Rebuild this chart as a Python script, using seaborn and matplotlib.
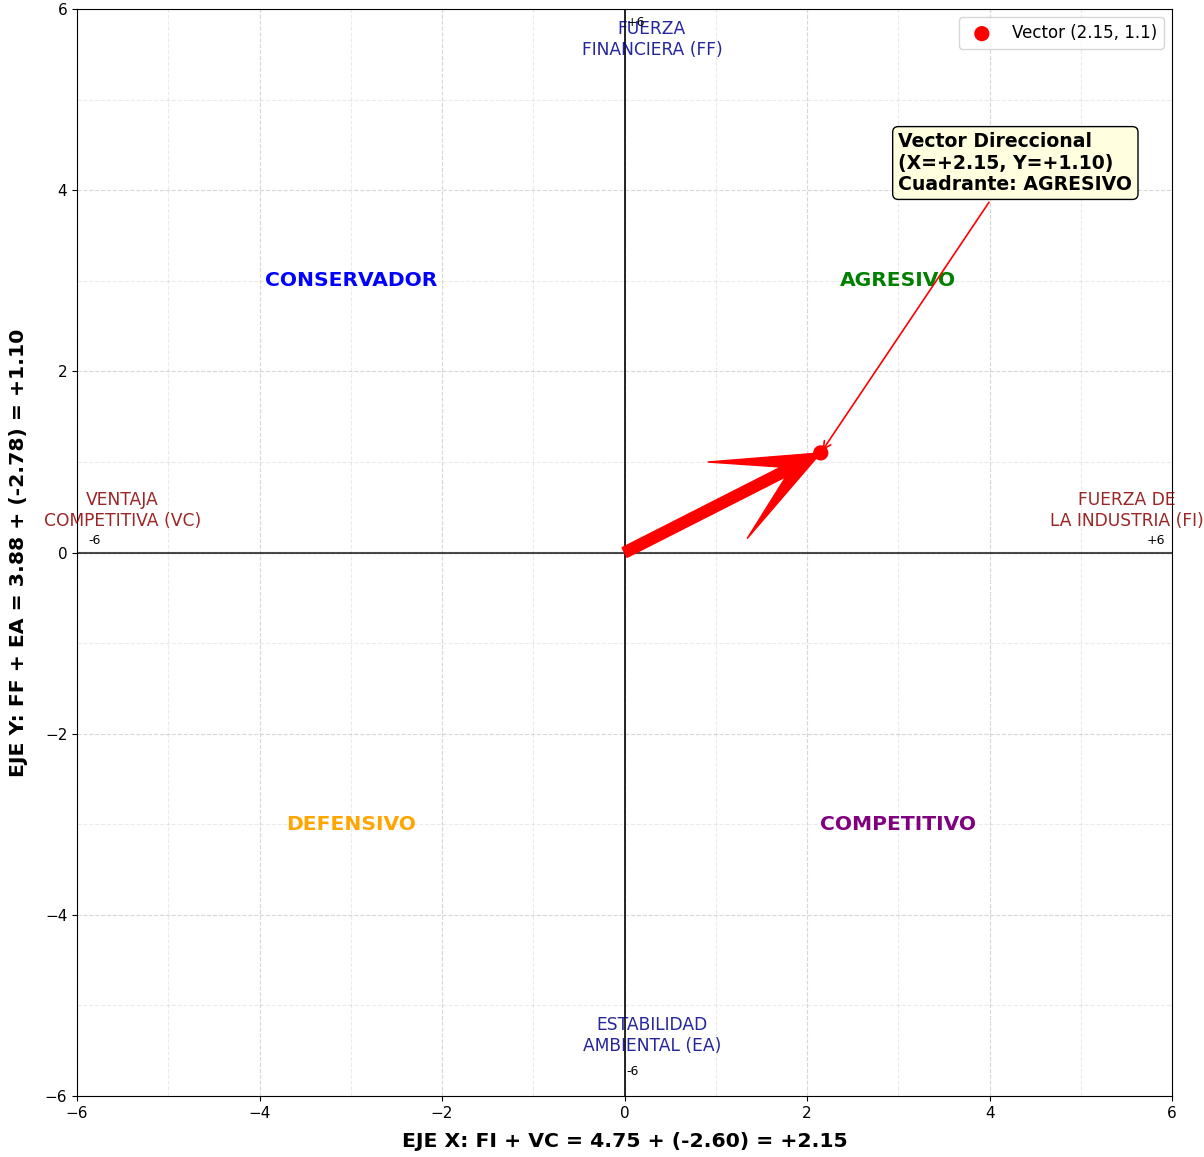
import matplotlib
matplotlib.use("Agg")
import matplotlib.pyplot as plt
import seaborn as sns
import pandas as pd
import numpy as np

# valores de la matriz PEYEA
FI = 4.75
VC = -2.60
FF = 3.88
EA = -2.78
vec_x = [2.15]
vec_y = [1.10]

# cuadrantes
cuadrantes = ["CONSERVADOR", "AGRESIVO", "DEFENSIVO", "COMPETITIVO"]
cuad_x = [-3, 3, -3, 3]
cuad_y = [3, 3, -3, -3]
cuad_col = ["blue", "green", "orange", "purple"]

# etiquetas de los ejes
ejes_txt = ["FUERZA\nFINANCIERA (FF)", "ESTABILIDAD\nAMBIENTAL (EA)",
            "VENTAJA\nCOMPETITIVA (VC)", "FUERZA DE\nLA INDUSTRIA (FI)"]
ejes_x = [0.3, 0.3, -5.5, 5.5]
ejes_y = [5.45, -5.55, 0.25, 0.25]
ejes_col = ["darkblue", "darkblue", "darkred", "darkred"]

# marcas de extremos
ext_txt = ["+6", "-6", "-6", "+6"]
ext_x = [0.02, 0.02, -5.88, 5.72]
ext_y = [5.78, -5.8, 0.06, 0.06]

fig = plt.figure(figsize=(12.04, 11.57), dpi=100)
ax = fig.add_axes([0.064, 0.0527, 0.9095, 0.9395])

ax.set_xlim(-6, 6)
ax.set_ylim(-6, 6)
ax.set_xticks(np.arange(-6, 7, 2))
ax.set_yticks(np.arange(-6, 7, 2))
ax.set_xticks(np.arange(-6, 7, 1), minor=True)
ax.set_yticks(np.arange(-6, 7, 1), minor=True)
ax.tick_params(which="minor", length=0)
ax.tick_params(labelsize=11)
ax.grid(True, which="major", linestyle="--", alpha=0.5)
ax.grid(True, which="minor", linestyle="--", alpha=0.25)

ax.axhline(0, color="black", linewidth=1.5, alpha=0.7)
ax.axvline(0, color="black", linewidth=1.2)

for t, x, y, c in zip(cuadrantes, cuad_x, cuad_y, cuad_col):
    ax.text(x, y, t, color=c, fontsize=14.6, fontweight="bold", ha="center", va="center")

for t, x, y, c in zip(ejes_txt, ejes_x, ejes_y, ejes_col):
    ax.text(x, y, t, color=c, fontsize=12.3, ha="center", va="bottom", alpha=0.85)

for t, x, y in zip(ext_txt, ext_x, ext_y):
    ax.text(x, y, t, fontsize=9, ha="left", va="bottom")

# vector direccional
ax.arrow(0, 0, vec_x[0], vec_y[0], width=0.12, head_width=0.95, head_length=1.15,
         overhang=0.6, length_includes_head=True, color="red", zorder=4)

df = pd.DataFrame({"x": vec_x, "y": vec_y})
sns.scatterplot(data=df, x="x", y="y", color="red", s=120, zorder=5, ax=ax,
                edgecolor="none", label=f"Vector ({vec_x[0]}, {round(vec_y[0], 2)})")

ax.annotate(f"Vector Direccional\n(X={vec_x[0]:+.2f}, Y={vec_y[0]:+.2f})\nCuadrante: AGRESIVO",
            xy=(vec_x[0], vec_y[0]), xytext=(3.0, 4.3), ha="left", va="center",
            fontsize=13.6, fontweight="bold", linespacing=1.15,
            bbox=dict(boxstyle="round,pad=0.3", facecolor="lightyellow", edgecolor="black"),
            arrowprops=dict(arrowstyle="->", color="red", lw=1.2))

ax.set_xlabel(f"EJE X: FI + VC = {FI:.2f} + ({VC:.2f}) = {FI + VC:+.2f}", fontsize=14.7,
              fontweight="bold", labelpad=8)
ax.set_ylabel(f"EJE Y: FF + EA = {FF:.2f} + ({EA:.2f}) = {FF + EA:+.2f}", fontsize=14.7,
              fontweight="bold", labelpad=12)

ax.legend(loc="upper right", fontsize=12, markerscale=1.0)

fig.savefig("out.png", dpi=100)
